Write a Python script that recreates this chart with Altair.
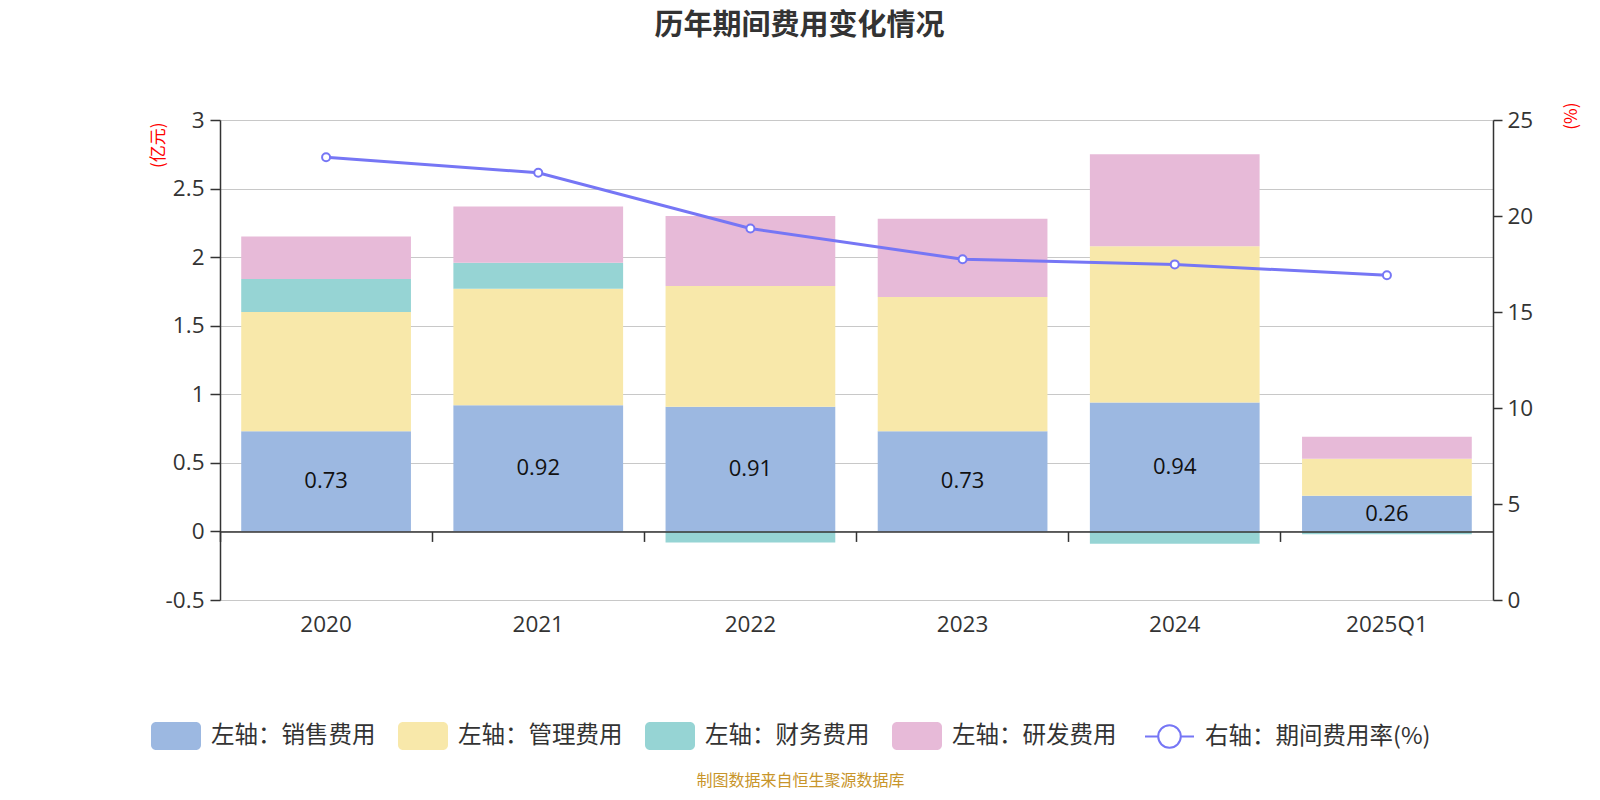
import altair as alt
import pandas as pd

# ---------------- data ----------------
years = ["2020", "2021", "2022", "2023", "2024", "2025Q1"]
sales = [0.73, 0.92, 0.91, 0.73, 0.94, 0.26]        # 销售费用 (亿元)
mgmt = [0.87, 0.85, 0.88, 0.98, 1.14, 0.27]         # 管理费用
finance = [0.24, 0.19, -0.08, 0.00, -0.09, -0.02]   # 财务费用
rnd = [0.31, 0.41, 0.51, 0.57, 0.67, 0.16]          # 研发费用
rate = [23.06, 22.25, 19.35, 17.75, 17.48, 16.91]   # 期间费用率 (%)

series_names = ["左轴：销售费用", "左轴：管理费用", "左轴：财务费用", "左轴：研发费用"]
series_colors = ["#9CB8E1", "#F8E8AA", "#96D4D4", "#E7BAD8"]
rate_name = "右轴：期间费用率(%)"
line_color = "#7676F5"

left_ticks = [-0.5, 0, 0.5, 1, 1.5, 2, 2.5, 3]
right_ticks = [0, 5, 10, 15, 20, 25]

rows = []
for i, yr in enumerate(years):
    for k, (name, vals) in enumerate(zip(series_names, [sales, mgmt, finance, rnd])):
        rows.append({"year": yr, "series": name, "value": vals[i], "order": k})
bar_df = pd.DataFrame(rows)
wide = pd.DataFrame({"year": years, "sales": sales, "rate": rate, "label": [rate_name] * len(years)})

FONT = "Noto Sans CJK SC"
NUMFONT = "Open Sans, Noto Sans CJK SC"
DARK = "#333333"

W, H = 1273, 480
zero_offset = -(H * 0.5 / 3.5)  # move x axis up to y = 0

x_axis = alt.Axis(
    orient="bottom", offset=zero_offset, bandPosition=0, zindex=1,
    domain=True, domainColor=DARK, domainWidth=1.5,
    ticks=True, tickColor=DARK, tickWidth=1.5, tickSize=10,
    labelFont=NUMFONT, labelFontSize=22.5, labelColor=DARK, labelPadding=72, labelAngle=0,
    grid=False,
    title="制图数据来自恒生聚源数据库", titleFont=FONT, titleFontSize=16,
    titleFontWeight="normal", titleColor="#C8952A",
    titleX=580, titleY=249, titleAlign="center", titleBaseline="middle",
)
x_enc = alt.X("year:N", sort=years,
              scale=alt.Scale(domain=years, paddingInner=0, paddingOuter=0),
              axis=x_axis)

left_axis = alt.Axis(
    values=left_ticks, labelExpr="datum.value + ''",
    domain=True, domainColor=DARK, domainWidth=1.5,
    ticks=True, tickColor=DARK, tickWidth=1.5, tickSize=10,
    labelFont=NUMFONT, labelFontSize=22.5, labelColor=DARK, labelPadding=6,
    grid=True, gridColor="#C8C8C8", gridWidth=1.2,
    title="(亿元)", titleFont=FONT, titleFontSize=17, titleFontWeight="normal",
    titleColor="#FF0000", titleAngle=270, titleAlign="right", titleBaseline="bottom",
    titleX=-53, titleY=2,
)
left_scale = alt.Scale(domain=[-0.5, 3], nice=False, zero=False)

right_axis = alt.Axis(
    orient="right", values=right_ticks,
    domain=True, domainColor=DARK, domainWidth=1.5,
    ticks=True, tickColor=DARK, tickWidth=1.5, tickSize=9,
    labelFont=NUMFONT, labelFontSize=22.5, labelColor=DARK, labelPadding=5,
    grid=False,
    title="(%)", titleFont=FONT, titleFontSize=17, titleFontWeight="normal",
    titleColor="#FF0000", titleAngle=270, titleAlign="right", titleBaseline="top",
    titleX=70, titleY=-18,
)
right_scale = alt.Scale(domain=[0, 25], nice=False, zero=True)

rrect = ("M-0.8,-0.56 L0.8,-0.56 A0.2,0.2 0 0 1 1,-0.36 L1,0.36 "
         "A0.2,0.2 0 0 1 0.8,0.56 L-0.8,0.56 A0.2,0.2 0 0 1 -1,0.36 "
         "L-1,-0.36 A0.2,0.2 0 0 1 -0.8,-0.56 Z")
line_sym = ("M-1,0 L-0.46,0 M0.46,0 L1,0 M-0.46,0 A0.46,0.46 0 1 1 0.46,0 "
            "A0.46,0.46 0 1 1 -0.46,0 Z")

bars = alt.Chart(bar_df).mark_bar(width=alt.RelativeBandSize(0.8)).encode(
    x=x_enc,
    y=alt.Y("value:Q", stack="zero", scale=left_scale, axis=left_axis),
    fill=alt.Fill("series:N",
                  scale=alt.Scale(domain=series_names, range=series_colors),
                  legend=alt.Legend(
                      title=None, orient="none", legendX=-69, legendY=591,
                      direction="horizontal", padding=0,
                      symbolType=rrect, symbolSize=2500, symbolStrokeWidth=0,
                      symbolOpacity=1, labelFont=FONT, labelFontSize=23.5,
                      labelColor=DARK, labelOffset=10, columnPadding=22,
                      labelLimit=0,
                  )),
    order=alt.Order("order:Q", sort="ascending"),
)

labels = alt.Chart(wide).transform_calculate(mid="datum.sales / 2").mark_text(
    font=NUMFONT, fontSize=22, color="#111111", baseline="middle", align="center"
).encode(
    x=x_enc,
    y=alt.Y("mid:Q", scale=left_scale, axis=left_axis),
    text=alt.Text("sales:Q", format=".2f"),
)

stroke_enc = alt.Stroke("label:N",
                        scale=alt.Scale(domain=[rate_name], range=[line_color]),
                        legend=alt.Legend(
                            title=None, orient="none", legendX=924, legendY=591,
                            padding=0, symbolType=line_sym, symbolSize=2401,
                            symbolStrokeWidth=2, symbolFillColor="white",
                            symbolStrokeColor=line_color, symbolOpacity=1,
                            labelFont=FONT, labelFontSize=23.5, labelColor=DARK,
                            labelOffset=10, labelLimit=0,
                        ))

line = alt.Chart(wide).mark_line(strokeWidth=3).encode(
    x=x_enc,
    y=alt.Y("rate:Q", scale=right_scale, axis=right_axis),
    stroke=stroke_enc,
)
points = alt.Chart(wide).mark_point(
    shape="circle", size=64, fill="white", fillOpacity=1, strokeWidth=2, opacity=1
).encode(
    x=x_enc,
    y=alt.Y("rate:Q", scale=right_scale, axis=right_axis),
    stroke=stroke_enc,
)

left = alt.layer(bars, labels)
right = alt.layer(line, points)

chart = alt.layer(left, right).resolve_scale(y="independent").properties(
    width=W, height=H,
    title=alt.Title("历年期间费用变化情况", font=FONT, fontSize=29, fontWeight="bold",
                    color=DARK, anchor="middle", dx=-57, offset=61),
    autosize=alt.AutoSizeParams(type="none"),
    padding={"left": 212, "top": 112, "right": 99, "bottom": 192},
).configure_view(stroke=None).configure(background="white")

chart.save("out.html", embed_options={"renderer": "svg", "actions": False})
